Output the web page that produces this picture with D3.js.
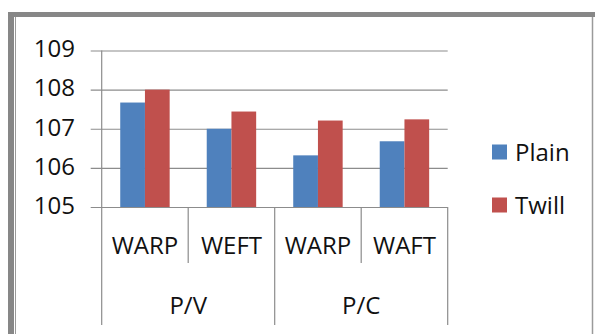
<!DOCTYPE html>
<html><head><meta charset="utf-8">
<script src="https://cdn.jsdelivr.net/npm/d3@7"></script>
<style>html,body{margin:0;padding:0;background:#fff;}svg{display:block;}</style>
</head><body>
<svg id="c" width="595" height="334"></svg>
<script>
const groups = ["P/V", "P/C"];
const categories = ["WARP", "WEFT", "WARP", "WAFT"];
const categoryGroup = [0, 0, 1, 1];
const seriesNames = ["Plain", "Twill"];
const plain = [107.67, 107.0, 106.32, 106.68];
const twill = [108.0, 107.44, 107.21, 107.24];
const yTicks = [105, 106, 107, 108, 109];
const colors = ["#4F81BD", "#C0504D"];

(function () {
const svg = d3.select("#c");
const font = "'Open Sans', sans-serif";
const plotLeft = 101.7, plotRight = 447.7, plotTop = 50.5, plotBottom = 207;

// border
svg.append("rect").attr("x", 8).attr("y", 12).attr("width", 6).attr("height", 322).attr("fill", "#878787");
svg.append("rect").attr("x", 8).attr("y", 12).attr("width", 587).attr("height", 5).attr("fill", "#878787");
svg.append("line").attr("x1", 15.5).attr("x2", 15.5).attr("y1", 17).attr("y2", 334).attr("stroke", "#9a9a9a").attr("stroke-width", 1);
svg.append("line").attr("x1", 592.5).attr("x2", 592.5).attr("y1", 17).attr("y2", 334).attr("stroke", "#9a9a9a").attr("stroke-width", 1.5);

const y = d3.scaleLinear().domain([105, 109]).range([plotBottom, plotTop]);
const x = d3.scaleBand().domain(d3.range(categories.length)).range([plotLeft, plotRight]).padding(0);
const xs = d3.scaleBand().domain(seriesNames).range([0, x.bandwidth()]).paddingInner(0).paddingOuter(0.75);

// y axis + gridlines
const yAxis = d3.axisLeft(y).tickValues(yTicks).tickFormat(d3.format("d"))
  .tickSizeInner(plotRight - 90.7).tickSizeOuter(0).tickPadding(90.7 - 75);
const ga = svg.append("g").attr("transform", `translate(${plotRight},0)`).call(yAxis);
ga.select(".domain").remove();
ga.selectAll(".tick line").attr("stroke", "#8c8c8c").attr("stroke-width", 1.2);
ga.selectAll(".tick text").attr("font-family", font).attr("font-size", 24).attr("fill", "#111")
  .attr("dy", "0.26em");

// vertical axis line
svg.append("line").attr("x1", plotLeft).attr("x2", plotLeft).attr("y1", y(109)).attr("y2", plotBottom)
  .attr("stroke", "#8c8c8c").attr("stroke-width", 1.2);

// bars
const series = [plain, twill];
series.forEach((vals, si) => {
  svg.append("g").selectAll("rect").data(vals).join("rect")
    .attr("x", (d, i) => x(i) + xs(seriesNames[si]))
    .attr("width", xs.bandwidth())
    .attr("y", d => y(d))
    .attr("height", d => y(105) - y(d))
    .attr("fill", colors[si]);
});

// category dividers
d3.range(categories.length + 1).forEach(i => {
  const xp = i < categories.length ? x(i) : plotRight;
  const isGroupEdge = i === 0 || i === categories.length || categoryGroup[i] !== categoryGroup[i - 1];
  svg.append("line").attr("x1", xp).attr("x2", xp).attr("y1", plotBottom).attr("y2", isGroupEdge ? 325 : 263)
    .attr("stroke", "#8c8c8c").attr("stroke-width", 1.2);
});

// category labels
svg.append("g").selectAll("text").data(categories).join("text")
  .attr("x", (d, i) => x(i) + x.bandwidth() / 2).attr("y", 254)
  .attr("text-anchor", "middle").attr("font-family", font).attr("font-size", 24).attr("fill", "#111")
  .text(d => d);
svg.append("g").selectAll("text").data(groups).join("text")
  .attr("x", (d, gi) => {
    const idx = categoryGroup.map((g, i) => g === gi ? i : -1).filter(i => i >= 0);
    return (x(idx[0]) + x(idx[idx.length - 1]) + x.bandwidth()) / 2;
  })
  .attr("y", 314).attr("text-anchor", "middle").attr("font-family", font).attr("font-size", 24).attr("fill", "#111")
  .text(d => d);

// legend
const leg = svg.append("g").selectAll("g").data(seriesNames).join("g")
  .attr("transform", (d, i) => `translate(492, ${152 + i * 53})`);
leg.append("rect").attr("x", 0).attr("y", -7.5).attr("width", 15).attr("height", 15).attr("fill", (d, i) => colors[i]);
leg.append("text").attr("x", 23).attr("y", 8.5).attr("font-family", font).attr("font-size", 24).attr("fill", "#111").text(d => d);
})();
</script>
</body></html>
